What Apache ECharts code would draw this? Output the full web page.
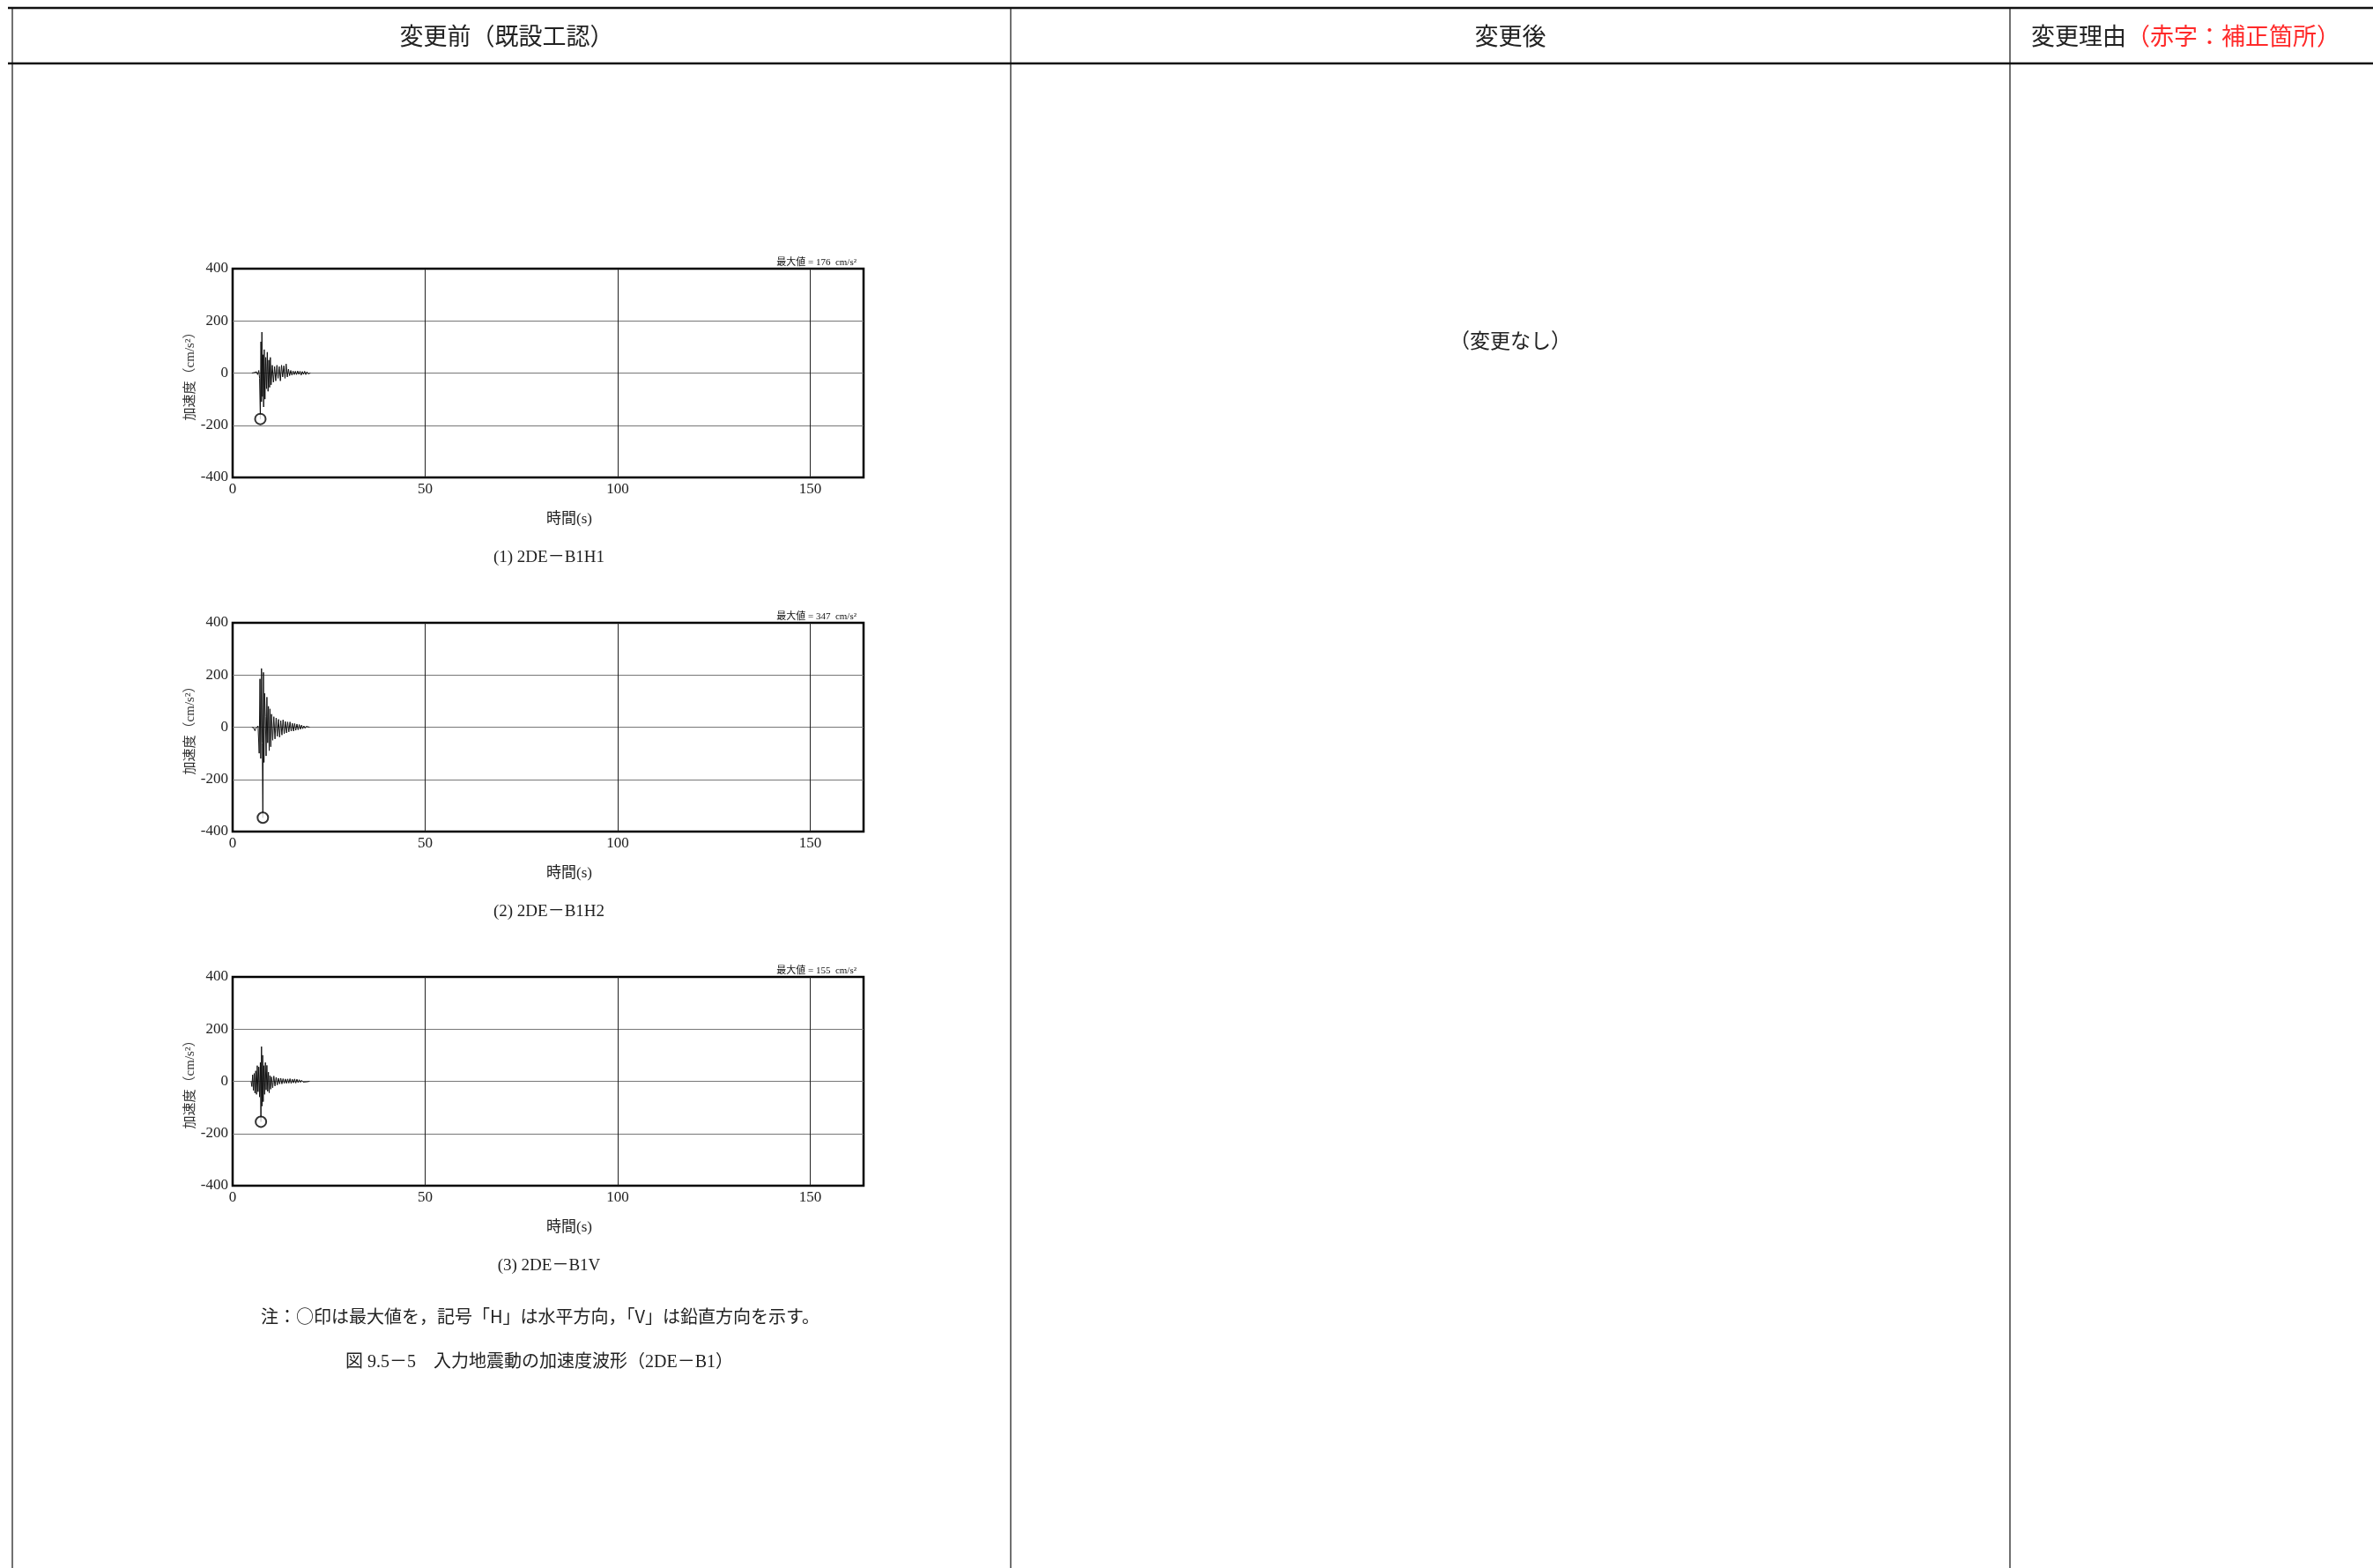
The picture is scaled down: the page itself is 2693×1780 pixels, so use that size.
<!DOCTYPE html>
<html>
<head>
<meta charset="utf-8">
<script src="https://cdn.jsdelivr.net/npm/echarts@6/dist/echarts.min.js"></script>
<style>
  html, body { margin: 0; padding: 0; background: #fff; }
  #main { width: 2693px; height: 1780px; }
</style>
</head>
<body>
<div id="main"></div>
<script>
// waveforms: [time (s), acceleration (cm/s2)]
var waveH1 = [[5.0,0],[5.6,2],[5.9,-3],[6.2,5],[6.5,-6],[6.8,10],[7.0,-20],[7.2,-176],[7.35,120],[7.5,-110],
  [7.6,157],[7.75,-90],[7.9,70],[8.05,-130],[8.2,90],[8.4,-100],[8.6,60],[8.8,-60],[9.0,80],[9.2,-70],
  [9.4,50],[9.6,-55],[9.8,60],[10.0,-45],[10.3,30],[10.6,-35],[10.9,25],[11.2,-30],[11.5,30],[11.8,-20],
  [12.1,25],[12.4,-30],[12.7,30],[13.0,-15],[13.3,28],[13.6,-20],[13.9,35],[14.2,-15],[14.5,15],[14.8,-10],
  [15.1,10],[15.4,-8],[15.7,8],[16.0,-6],[16.3,7],[16.6,-6],[16.9,8],[17.2,-5],[17.5,7],[17.8,-8],
  [18.1,6],[18.4,-5],[18.7,7],[19.0,-6],[19.3,5],[19.6,-3],[19.9,2],[20.2,0]];
var waveH2 = [[5.0,0],[5.5,-3],[5.8,-14],[6.0,-5],[6.3,-10],[6.6,5],[6.9,-100],[7.1,185],[7.3,-120],[7.5,225],
  [7.7,-60],[7.85,-347],[8.0,210],[8.15,-135],[8.3,130],[8.5,40],[8.7,-110],[8.9,115],[9.1,-60],[9.3,80],
  [9.5,-90],[9.7,70],[9.9,-75],[10.1,50],[10.4,-50],[10.7,40],[11.0,-45],[11.3,35],[11.6,-35],[11.9,30],
  [12.2,-38],[12.5,25],[12.8,-30],[13.1,28],[13.4,-25],[13.7,22],[14.0,-22],[14.3,20],[14.6,-18],[14.9,20],
  [15.2,-15],[15.5,15],[15.8,-15],[16.1,14],[16.4,-12],[16.7,12],[17.0,-10],[17.3,10],[17.6,-8],[17.9,8],
  [18.2,-6],[18.5,5],[18.8,-4],[19.1,3],[19.5,-2],[20.0,0]];
var waveV = [[4.8,0],[5.0,-20],[5.2,25],[5.4,-35],[5.6,30],[5.8,-45],[6.0,40],[6.2,-50],[6.4,60],[6.6,-40],
  [6.8,55],[7.0,-60],[7.2,72],[7.35,-155],[7.5,133],[7.65,-95],[7.8,100],[7.95,-78],[8.1,60],[8.3,-50],
  [8.5,72],[8.7,-33],[8.9,61],[9.1,-39],[9.3,35],[9.5,-44],[9.7,22],[9.9,-30],[10.1,17],[10.4,-25],
  [10.7,20],[11.0,-18],[11.3,15],[11.6,-14],[11.9,12],[12.2,-10],[12.5,12],[12.8,-10],[13.1,10],[13.4,-8],
  [13.7,9],[14.0,-8],[14.3,9],[14.6,-7],[14.9,10],[15.2,-8],[15.5,8],[15.8,-6],[16.1,9],[16.4,-7],
  [16.7,8],[17.0,-5],[17.3,6],[17.6,-4],[17.9,4],[18.3,-3],[18.7,2],[19.2,-2],[20.0,0]];

var peakPoints = [[7.2, -176], [7.85, -347], [7.35, -155]];
var maxValues = [176, 347, 155];
var subTitles = ['(1) 2DE－B1H1', '(2) 2DE－B1H2', '(3) 2DE－B1V'];

(function () {
  var waves = [waveH1, waveH2, waveV];
  var FONT = "'Liberation Serif', 'Noto Sans CJK JP', serif";
  var CJK = "'Noto Sans CJK JP', sans-serif";
  var GRID_LEFT = 264, GRID_W = 716, GRID_H = 237, GRID_TOP0 = 305, GRID_STEP = 402;

  var myChart = echarts.init(document.getElementById('main'));

  var grids = [], xAxes = [], yAxes = [], series = [], graphics = [];

  for (var i = 0; i < 3; i++) {
    var gridTop = GRID_TOP0 + GRID_STEP * i;
    grids.push({
      left: GRID_LEFT, top: gridTop, width: GRID_W, height: GRID_H,
      show: true, borderColor: '#000', borderWidth: 2.5, backgroundColor: 'transparent'
    });
    xAxes.push({
      gridIndex: i, type: 'value', min: 0, max: 163.84, interval: 50,
      axisLine: { show: false }, axisTick: { show: false },
      splitLine: { show: true, showMinLine: false, showMaxLine: false, lineStyle: { color: '#222', width: 1 } },
      axisLabel: { fontSize: 17, color: '#222', margin: 5, fontFamily: FONT, showMaxLabel: false }
    });
    yAxes.push({
      gridIndex: i, type: 'value', min: -400, max: 400, interval: 200,
      axisLine: { show: false }, axisTick: { show: false },
      splitLine: { show: true, showMinLine: false, showMaxLine: false, lineStyle: { color: '#777', width: 1 } },
      axisLabel: { fontSize: 17, color: '#222', margin: 5, fontFamily: FONT },
      name: '加速度（cm/s²）', nameLocation: 'middle', nameGap: 40, nameRotate: 90,
      nameTextStyle: { fontSize: 15, color: '#333', fontFamily: FONT }
    });
    series.push({
      type: 'line', xAxisIndex: i, yAxisIndex: i, data: waves[i],
      showSymbol: false, lineStyle: { color: '#111', width: 1 }, z: 3, silent: true
    });
    series.push({
      type: 'scatter', xAxisIndex: i, yAxisIndex: i, data: [peakPoints[i]],
      symbol: 'emptyCircle', symbolSize: 12,
      itemStyle: { color: '#000', borderWidth: 1.3 }, z: 4, silent: true
    });

    // 最大値, 時間, 小見出し
    graphics.push({
      type: 'text', x: GRID_LEFT + GRID_W - 8, y: gridTop - 7,
      style: { text: '最大値 = ' + maxValues[i] + '  cm/s²', font: '11px ' + FONT, fill: '#111',
        textAlign: 'right', textVerticalAlign: 'middle' }
    });
    graphics.push({
      type: 'text', x: 646, y: gridTop + 285,
      style: { text: '時間(s)', font: '17px ' + FONT, fill: '#222', textAlign: 'center', textVerticalAlign: 'middle' }
    });
    graphics.push({
      type: 'text', x: 623, y: gridTop + 328,
      style: { text: subTitles[i], font: '19px ' + FONT, fill: '#222', textAlign: 'center', textVerticalAlign: 'middle' }
    });
  }

  // table frame
  var lines = [
    { x1: 9, y1: 9, x2: 2693, y2: 9, w: 2.5 },
    { x1: 9, y1: 72, x2: 2693, y2: 72, w: 2.5 },
    { x1: 14, y1: 9, x2: 14, y2: 1780, w: 1.2 },
    { x1: 1147, y1: 9, x2: 1147, y2: 1780, w: 1.2 },
    { x1: 2281, y1: 9, x2: 2281, y2: 1780, w: 1.2 }
  ];
  lines.forEach(function (l) {
    graphics.push({
      type: 'line', shape: { x1: l.x1, y1: l.y1, x2: l.x2, y2: l.y2 },
      style: { stroke: '#111', lineWidth: l.w }, z: 10
    });
  });

  graphics.push({
    type: 'text', x: 575, y: 41,
    style: { text: '変更前（既設工認）', font: '27px ' + CJK, fill: '#222', textAlign: 'center', textVerticalAlign: 'middle' }
  });
  graphics.push({
    type: 'text', x: 1714, y: 41,
    style: { text: '変更後', font: '27px ' + CJK, fill: '#222', textAlign: 'center', textVerticalAlign: 'middle' }
  });
  graphics.push({
    type: 'text', x: 2305, y: 41,
    style: { text: '変更理由', font: '27px ' + CJK, fill: '#222', textAlign: 'left', textVerticalAlign: 'middle' }
  });
  graphics.push({
    type: 'text', x: 2413, y: 41,
    style: { text: '（赤字：補正箇所）', font: '27px ' + CJK, fill: '#ff2a2a', textAlign: 'left', textVerticalAlign: 'middle' }
  });
  graphics.push({
    type: 'text', x: 1714, y: 386,
    style: { text: '（変更なし）', font: '23px ' + CJK, fill: '#222', textAlign: 'center', textVerticalAlign: 'middle' }
  });
  graphics.push({
    type: 'text', x: 613, y: 1494,
    style: { text: '注：○印は最大値を，記号「H」は水平方向，「V」は鉛直方向を示す。', font: '20px ' + CJK, fill: '#222',
      textAlign: 'center', textVerticalAlign: 'middle' }
  });
  graphics.push({
    type: 'text', x: 612, y: 1547,
    style: { text: '図 9.5－5　入力地震動の加速度波形（2DE－B1）', font: '20px ' + FONT, fill: '#222',
      textAlign: 'center', textVerticalAlign: 'middle' }
  });

  myChart.setOption({
    backgroundColor: '#fff',
    animation: false,
    grid: grids,
    xAxis: xAxes,
    yAxis: yAxes,
    series: series,
    graphic: { elements: graphics }
  });
})();
</script>
</body>
</html>
